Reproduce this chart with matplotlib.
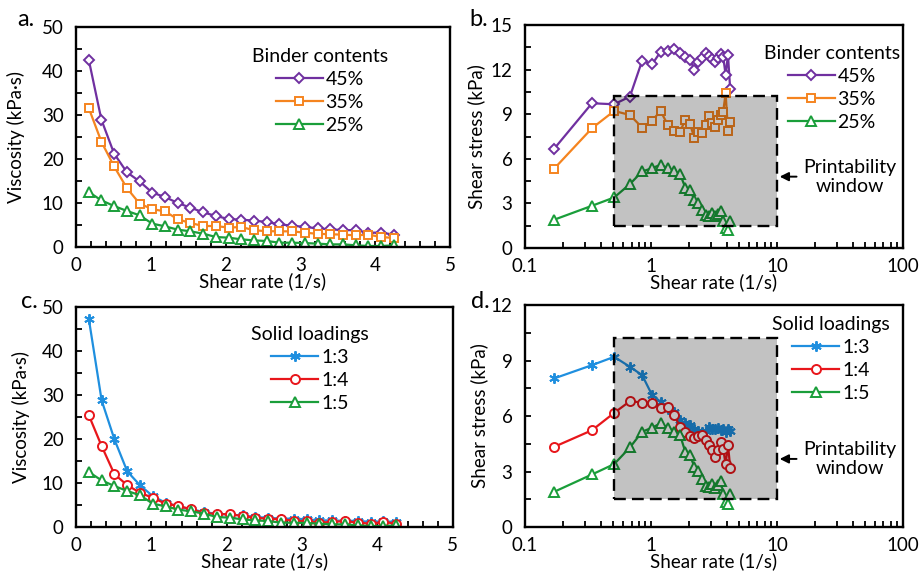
import matplotlib
matplotlib.use("Agg")
import matplotlib.pyplot as plt
from matplotlib.patches import Rectangle
from matplotlib.ticker import MultipleLocator, LogLocator, FixedLocator, NullFormatter

plt.rcParams["font.family"] = ["Lato", "DejaVu Sans"]

# shear rate steps (1/s)
RATE = [0.17, 0.34, 0.51, 0.68, 0.85, 1.02, 1.19, 1.36, 1.53, 1.70, 1.87, 2.04, 2.21,
        2.38, 2.55, 2.72, 2.89, 3.06, 3.23, 3.40, 3.57, 3.74, 3.91, 4.08, 4.25]

# a. viscosity (kPa·s) vs binder content
VISC_45 = [42.6, 28.9, 21.2, 17.0, 14.9, 12.35, 11.36, 10.0, 8.94, 7.88, 7.05, 6.36, 6.2,
           6.0, 5.68, 5.15, 4.85, 4.55, 4.24, 4.0, 3.86, 3.8, 3.26, 3.26, 2.8]
VISC_35 = [31.6, 23.9, 18.3, 13.4, 9.85, 8.6, 8.1, 6.3, 5.45, 4.77, 4.77, 4.4, 4.55,
           3.8, 3.6, 3.56, 3.56, 3.25, 3.0, 2.9, 2.8, 2.65, 2.8, 2.27, 2.05]
VISC_25 = [12.5, 10.6, 9.3, 8.2, 7.2, 5.3, 4.7, 3.94, 3.56, 3.03, 2.27, 2.12, 1.74,
           1.5, 1.36, 0.98, 0.98, 0.9, 0.76, 0.6, 0.6, 0.38, 0.23, 0.23, 0.38]

# b. shear stress (kPa) vs binder content
STRESS_45 = [6.67, 9.74, 9.67, 10.19, 12.6, 12.36, 13.2, 13.25, 13.4, 13.1, 12.87, 12.65, 12.0,
             12.5, 12.76, 13.1, 12.9, 12.7, 12.5, 12.76, 13.05, 12.87, 11.64, 13.0, 10.68]
STRESS_35 = [5.33, 8.06, 9.22, 8.95, 8.1, 8.57, 9.22, 8.28, 7.88, 7.83, 8.62, 8.35, 7.39,
             7.83, 7.72, 8.28, 8.89, 8.4, 8.17, 8.62, 8.95, 9.18, 10.4, 7.9, 8.5]
STRESS_25 = [1.9, 2.84, 3.4, 4.3, 5.15, 5.37, 5.6, 5.37, 5.15, 4.97, 4.07, 3.87, 3.25,
             3.02, 2.57, 2.24, 2.17, 2.35, 2.13, 2.28, 2.5, 1.79, 1.34, 1.23, 1.79]

# c. viscosity vs solid loading (1:5 is the same batch as 25 %)
VISC_13 = [47.3, 28.8, 19.9, 12.65, 9.47, 7.0, 5.5, 4.7, 4.0, 3.4, 3.0, 2.8, 2.65,
           2.27, 2.1, 1.9, 1.9, 1.75, 1.5, 1.5, 1.4, 1.4, 1.15, 1.3, 1.15]
VISC_14 = [25.4, 18.4, 12.0, 9.5, 7.8, 6.6, 5.3, 4.8, 4.0, 3.2, 2.95, 2.9, 2.5,
           2.1, 1.9, 1.75, 1.45, 1.3, 1.0, 1.15, 1.35, 1.0, 0.75, 1.15, 0.75]
VISC_15 = VISC_25

# d. shear stress vs solid loading
STRESS_13 = [8.03, 8.75, 9.2, 8.66, 8.21, 7.13, 6.77, 6.37, 6.19, 5.78, 5.63, 5.54, 5.29,
             5.2, 5.14, 5.18, 5.42, 5.32, 5.29, 5.36, 5.23, 5.29, 5.14, 5.32, 5.2]
STRESS_14 = [4.33, 5.23, 6.17, 6.8, 6.73, 6.73, 6.44, 6.5, 6.05, 5.42, 5.14, 4.93, 4.82,
             4.93, 4.96, 4.69, 4.42, 4.15, 3.79, 4.15, 4.6, 4.24, 3.38, 4.46, 3.2]
STRESS_15 = STRESS_25

# printability window (shear rate, shear stress)
WINDOW_X = [0.51, 10.0]
WINDOW_Y = [1.5, 10.2]

PURPLE, ORANGE, GREEN = "#7030a0", "#f5841f", "#1a9e3a"
BLUE, RED = "#1f8fdf", "#e8161b"
ASTERISK = (6, 2, 0)

BINDER = [("45%", PURPLE, "D", 5), ("35%", ORANGE, "s", 6), ("25%", GREEN, "^", 6.5)]
SOLID = [("1:3", BLUE, ASTERISK, 7.5), ("1:4", RED, "o", 6.5), ("1:5", GREEN, "^", 6.5)]

FS = 13.5

fig = plt.figure(figsize=(9.19, 5.79), dpi=100)
ax_a = fig.add_axes([0.0827, 0.5734, 0.407, 0.380])
ax_b = fig.add_axes([0.5713, 0.5717, 0.4113, 0.385])
ax_c = fig.add_axes([0.0827, 0.0898, 0.410, 0.380])
ax_d = fig.add_axes([0.5713, 0.0898, 0.4113, 0.3834])


def draw_series(ax, series, data):
    for (label, color, marker, ms), ys in zip(series, data):
        ax.plot(RATE, ys, color=color, lw=1.6, marker=marker, ms=ms,
                mfc="white", mec=color, mew=1.4, label=label, zorder=2)


def style(ax, ylabel, label_x):
    for s in ax.spines.values():
        s.set_linewidth(1.7)
    ax.tick_params(which="both", direction="in", width=1.3, labelsize=FS,
                   top=False, right=False, length=4)
    ax.tick_params(axis="x", pad=7)
    ax.tick_params(axis="y", pad=9)
    ax.set_xlabel("Shear rate (1/s)", fontsize=FS, labelpad=-1)
    ax.set_ylabel(ylabel, fontsize=FS)
    ax.yaxis.set_label_coords(label_x, 0.5)


def legend(ax, title, cx, cy):
    ax.legend(title=title, frameon=False, loc="center",
              bbox_to_anchor=(cx / 919, 1 - cy / 579), bbox_transform=fig.transFigure,
              fontsize=14, title_fontsize=14, handlelength=2.4, handletextpad=0.15,
              labelspacing=0.3, borderaxespad=0, borderpad=0)


def window(ax, arrow_y):
    x0, x1 = WINDOW_X
    y0, y1 = WINDOW_Y
    ax.add_patch(Rectangle((x0, y0), x1 - x0, y1 - y0, facecolor=(0, 0, 0, 0.24),
                           edgecolor="none", zorder=3))
    ax.add_patch(Rectangle((x0, y0), x1 - x0, y1 - y0, facecolor="none",
                           edgecolor="black", lw=1.7, ls=(0, (5, 2.6)), zorder=4))
    ax.annotate("Printability\nwindow", xy=(10.5, arrow_y), xytext=(38, arrow_y),
                ha="center", va="center", fontsize=14, linespacing=1.15,
                arrowprops=dict(arrowstyle="-|>", color="black", lw=1.4,
                                shrinkA=3, shrinkB=0, mutation_scale=13))


def linear_axes(ax):
    ax.set_xlim(0, 5)
    ax.set_ylim(0, 50)
    ax.xaxis.set_major_locator(MultipleLocator(1))
    ax.xaxis.set_minor_locator(MultipleLocator(0.2))
    ax.yaxis.set_major_locator(MultipleLocator(10))
    ax.yaxis.set_minor_locator(MultipleLocator(5))


def log_axes(ax, ymax, ystep):
    ax.set_xscale("log")
    ax.set_xlim(0.1, 100)
    ax.set_ylim(0, ymax)
    ax.xaxis.set_major_locator(FixedLocator([0.1, 1, 10, 100]))
    ax.xaxis.set_major_formatter(plt.FuncFormatter(lambda v, _: f"{v:g}"))
    ax.xaxis.set_minor_locator(LogLocator(base=10, subs=range(2, 10)))
    ax.xaxis.set_minor_formatter(NullFormatter())
    ax.yaxis.set_major_locator(MultipleLocator(ystep))
    ax.yaxis.set_minor_locator(MultipleLocator(ystep / 2))


# a.
draw_series(ax_a, BINDER, [VISC_45, VISC_35, VISC_25])
linear_axes(ax_a)
style(ax_a, "Viscosity (kPa·s)", -0.136)
legend(ax_a, "Binder contents", 320, 91)

# b.
draw_series(ax_b, BINDER, [STRESS_45, STRESS_35, STRESS_25])
log_axes(ax_b, 15, 3)
style(ax_b, "Shear stress (kPa)", -0.106)
window(ax_b, 4.8)
legend(ax_b, "Binder contents", 832, 88)

# c.
draw_series(ax_c, SOLID, [VISC_13, VISC_14, VISC_15])
linear_axes(ax_c)
style(ax_c, "Viscosity (kPa·s)", -0.122)
legend(ax_c, "Solid loadings", 310, 369)

# d.
draw_series(ax_d, SOLID, [STRESS_13, STRESS_14, STRESS_15])
log_axes(ax_d, 12, 3)
style(ax_d, "Shear stress (kPa)", -0.098)
window(ax_d, 3.68)
legend(ax_d, "Solid loadings", 831, 359)

for lab, x, y in [("a.", 17, 19), ("b.", 469, 19), ("c.", 21, 302), ("d.", 471, 301)]:
    fig.text(x / 919, 1 - y / 579, lab, fontsize=17, ha="left", va="center")

fig.savefig("out.png", dpi=100)
